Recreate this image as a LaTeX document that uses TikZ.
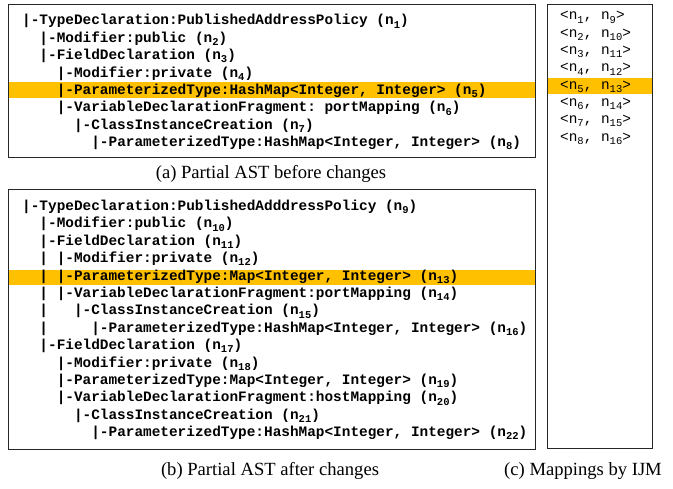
\documentclass[tikz,border=0pt]{standalone}
\usepackage{fontspec}
\setmainfont{Liberation Serif}
\newfontfamily\codefont{Liberation Mono}[BoldFont={Liberation Mono Bold}]
\usepackage{tikz}
\usetikzlibrary{positioning}

\definecolor{hlorange}{RGB}{255,192,0}
\newcommand{\nsub}[1]{n\raisebox{-3.2pt}{\fontsize{10.5}{10.5}\selectfont#1}}

\begin{document}
\begin{tikzpicture}[x=1pt,y=-1pt,node distance=17.4pt,
                    line/.style={font=\codefont\bfseries\fontsize{14.4}{17.4}\selectfont\frenchspacing,
                                 inner sep=0pt,anchor=base west},
                    pair/.style={font=\codefont\fontsize{14.4}{17.3}\selectfont\frenchspacing,
                                 inner sep=0pt,anchor=base west},
                    frame/.style={draw=black!85,line width=1pt},
                    hl/.style={fill=hlorange},
                    caption/.style={font=\fontsize{18.6}{20}\selectfont}]

  \useasboundingbox (0,0) rectangle (673,489);

  % highlighted rows
  \fill[hl] (8,82.5) rectangle (535,98.5);
  \fill[hl] (8,270.5) rectangle (535,285);
  \fill[hl] (547,78.5) rectangle (652,94.5);

  % (a) before changes
  \node[line] (a1) at (22,25) {|-TypeDeclaration:PublishedAddressPolicy (\nsub{1})};
  \node[line] (a2) [below=of a1.base west,anchor=base west] {~~|-Modifier:public (\nsub{2})};
  \node[line] (a3) [below=of a2.base west,anchor=base west] {~~|-FieldDeclaration (\nsub{3})};
  \node[line] (a4) [below=of a3.base west,anchor=base west] {~~~~|-Modifier:private (\nsub{4})};
  \node[line] (a5) [below=of a4.base west,anchor=base west] {~~~~|-ParameterizedType:HashMap<Integer, Integer> (\nsub{5})};
  \node[line] (a6) [below=of a5.base west,anchor=base west] {~~~~|-VariableDeclarationFragment: portMapping (\nsub{6})};
  \node[line] (a7) [below=of a6.base west,anchor=base west] {~~~~~~|-ClassInstanceCreation (\nsub{7})};
  \node[line] (a8) [below=of a7.base west,anchor=base west] {~~~~~~~~|-ParameterizedType:HashMap<Integer, Integer> (\nsub{8})};
  \draw[frame] (8,5) rectangle (535,158);
  \node[caption] (capa) at (271,174) {(a) Partial AST before changes};

  % (b) after changes
  \node[line] (b1) at (22,210.5) {|-TypeDeclaration:PublishedAdddressPolicy (\nsub{9})};
  \node[line] (b2) [below=of b1.base west,anchor=base west] {~~|-Modifier:public (\nsub{10})};
  \node[line] (b3) [below=of b2.base west,anchor=base west] {~~|-FieldDeclaration (\nsub{11})};
  \node[line] (b4) [below=of b3.base west,anchor=base west] {~~|~|-Modifier:private (\nsub{12})};
  \node[line] (b5) [below=of b4.base west,anchor=base west] {~~|~|-ParameterizedType:Map<Integer, Integer> (\nsub{13})};
  \node[line] (b6) [below=of b5.base west,anchor=base west] {~~|~|-VariableDeclarationFragment:portMapping (\nsub{14})};
  \node[line] (b7) [below=of b6.base west,anchor=base west] {~~|~~~|-ClassInstanceCreation (\nsub{15})};
  \node[line] (b8) [below=of b7.base west,anchor=base west] {~~|~~~~~|-ParameterizedType:HashMap<Integer, Integer> (\nsub{16})};
  \node[line] (b9) [below=of b8.base west,anchor=base west] {~~|-FieldDeclaration (\nsub{17})};
  \node[line] (b10) [below=of b9.base west,anchor=base west] {~~~~|-Modifier:private (\nsub{18})};
  \node[line] (b11) [below=of b10.base west,anchor=base west] {~~~~|-ParameterizedType:Map<Integer, Integer> (\nsub{19})};
  \node[line] (b12) [below=of b11.base west,anchor=base west] {~~~~|-VariableDeclarationFragment:hostMapping (\nsub{20})};
  \node[line] (b13) [below=of b12.base west,anchor=base west] {~~~~~~|-ClassInstanceCreation (\nsub{21})};
  \node[line] (b14) [below=of b13.base west,anchor=base west] {~~~~~~~~|-ParameterizedType:HashMap<Integer, Integer> (\nsub{22})};
  \draw[frame] (8,190) rectangle (535,450);
  \node[caption] (capb) at (270,471) {(b) Partial AST after changes};

  % (c) mappings
  \node[pair] (m1) at (560,20) {<\nsub{1}, \nsub{9}>};
  \node[pair] (m2) [below=17.3pt of m1.base west,anchor=base west] {<\nsub{2}, \nsub{10}>};
  \node[pair] (m3) [below=17.3pt of m2.base west,anchor=base west] {<\nsub{3}, \nsub{11}>};
  \node[pair] (m4) [below=17.3pt of m3.base west,anchor=base west] {<\nsub{4}, \nsub{12}>};
  \node[pair] (m5) [below=17.3pt of m4.base west,anchor=base west] {<\nsub{5}, \nsub{13}>};
  \node[pair] (m6) [below=17.3pt of m5.base west,anchor=base west] {<\nsub{6}, \nsub{14}>};
  \node[pair] (m7) [below=17.3pt of m6.base west,anchor=base west] {<\nsub{7}, \nsub{15}>};
  \node[pair] (m8) [below=17.3pt of m7.base west,anchor=base west] {<\nsub{8}, \nsub{16}>};
  \draw[frame] (547,5) rectangle (652,449);
  \node[caption] (capc) at (583,471) {(c) Mappings by IJM};

\end{tikzpicture}
\end{document}
